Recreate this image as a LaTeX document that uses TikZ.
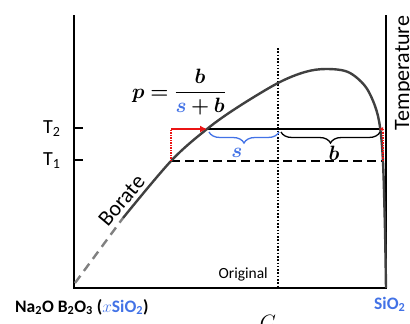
\documentclass[tikz,border=0pt]{standalone}
\usepackage{amsmath}
\usepackage{fontspec}
\setmainfont{Carlito}
\usetikzlibrary{arrows.meta,decorations.pathreplacing}
\definecolor{myblue}{RGB}{66,114,230}
\definecolor{myred}{RGB}{235,20,20}
\definecolor{curvegray}{RGB}{64,64,64}
\definecolor{dashgray}{RGB}{128,128,128}
\newcommand{\bsym}[1]{\boldsymbol{#1}}
\begin{document}
\begin{tikzpicture}[x=1pt,y=-1pt,
  axisline/.style={line width=2.6pt,line join=miter},
  tickline/.style={line width=2.2pt},
  curveline/.style={line width=2.4pt,color=curvegray},
  borateline/.style={line width=2.4pt,color=dashgray,dash pattern=on 9pt off 6pt},
  levelline/.style={line width=2pt},
  tonedash/.style={line width=2.2pt,dash pattern=on 9pt off 5pt},
  origdots/.style={line width=2pt,dash pattern=on 1.6pt off 1.7pt},
  reddots/.style={line width=1.5pt,color=myred,dash pattern=on 1.2pt off 1.3pt},
  redarrow/.style={line width=1.5pt,color=myred,-{Latex[length=7pt,width=7pt]}},
  bracestyle/.style={line width=1.3pt,decorate,decoration={brace,mirror,amplitude=11pt}},
  lbl/.style={inner sep=0pt,font=\fontsize{20}{24}\selectfont},
  biglbl/.style={inner sep=0pt,font=\fontsize{22}{26}\selectfont},
  mathlbl/.style={inner sep=0pt,font=\fontsize{22}{26}\selectfont}]
\useasboundingbox (0,0) rectangle (410,324);
% key points
\coordinate (O) at (74,288);
\coordinate (TL) at (74,15);
\coordinate (BR) at (386,288);
\coordinate (TR) at (386,15);
\coordinate (t2a) at (74,128);
\coordinate (t2b) at (83,128);
\coordinate (t1a) at (74,160);
\coordinate (t1b) at (83,160);
\coordinate (L1) at (171,161);
\coordinate (R1) at (383,161);
\coordinate (L2) at (171,129);
\coordinate (M2) at (207,129);
\coordinate (R2) at (381,129);
\coordinate (Rr) at (383,131);
\coordinate (Ctop) at (278,48);
\coordinate (Cbot) at (278,288);
\coordinate (B0) at (75,283);
\coordinate (B1) at (123,218);
% axes
\draw[axisline] (TL) -- (O) -- (BR) -- (TR);
\draw[tickline] (t2a) -- (t2b);
\draw[tickline] (t1a) -- (t1b);
% level lines
\draw[tonedash] (L1) -- (R1);
\draw[levelline] (M2) -- (R2);
\draw[origdots] (Ctop) -- (Cbot);
% curve
\draw[borateline] (B0) -- (B1);
\draw[curveline] plot[smooth,tension=0.55] coordinates {(123,218) (171,161) (207,129) (238,107) (278,83) (305,72) (326,69) (348,72) (365,86) (375,106) (380,127) (383,162) (385,230) (386,288)};
% red markers
\draw[reddots] (L1) -- (L2);
\draw[redarrow] (L2) -- (M2);
\draw[reddots] (R1) -- (Rr);
\draw[myred,line width=1pt,-{Latex[length=4pt,width=4pt]}] (384,129) -- (379,129);
% braces
\coordinate (sa) at (209,132);
\coordinate (sb) at (279,132);
\coordinate (ba) at (281,132);
\coordinate (bb) at (380,132);
\draw[bracestyle,myblue] (sa) -- (sb);
\draw[bracestyle] (ba) -- (bb);
\node[mathlbl,anchor=base,text=myblue] (slbl) at (237,157) {$\bsym{s}$};
\node[mathlbl,anchor=base] (blbl) at (334,160) {$\bsym{b}$};
% formula
\node[anchor=base west,inner sep=0pt,font=\fontsize{20}{24}\selectfont] (pform) at (132,98) {$\displaystyle \bsym{p}\bsym{=}\frac{\bsym{b}}{\textcolor{myblue}{\bsym{s}}\bsym{+}\bsym{b}}$};
% labels
\node[lbl,anchor=base west] (T2) at (43,133) {T\textsubscript{2}};
\node[lbl,anchor=base west] (T1) at (43,165) {T\textsubscript{1}};
\node[biglbl,anchor=base,rotate=90] (temp) at (409,73) {Temperature};
\node[biglbl,anchor=base,rotate=50] (borate) at (127,205) {Borate};
\node[inner sep=0pt,anchor=base east,font=\fontsize{15.5}{18}\selectfont] (orig) at (268,278) {Original};
\node[inner sep=0pt,anchor=base west,font=\fontsize{17.5}{21}\selectfont\bfseries] (na) at (15,312) {Na\textsubscript{2}O B\textsubscript{2}O\textsubscript{3} (\textcolor{myblue}{\mdseries$x$\bfseries SiO\textsubscript{2}})};
\node[inner sep=0pt,anchor=base west,font=\fontsize{17.5}{21}\selectfont\bfseries,text=myblue] (sio) at (374,309) {SiO\textsubscript{2}};
\node[inner sep=0pt,anchor=base,font=\fontsize{21}{25}\selectfont] (clbl) at (268,329) {$C$};
\end{tikzpicture}
\end{document}
